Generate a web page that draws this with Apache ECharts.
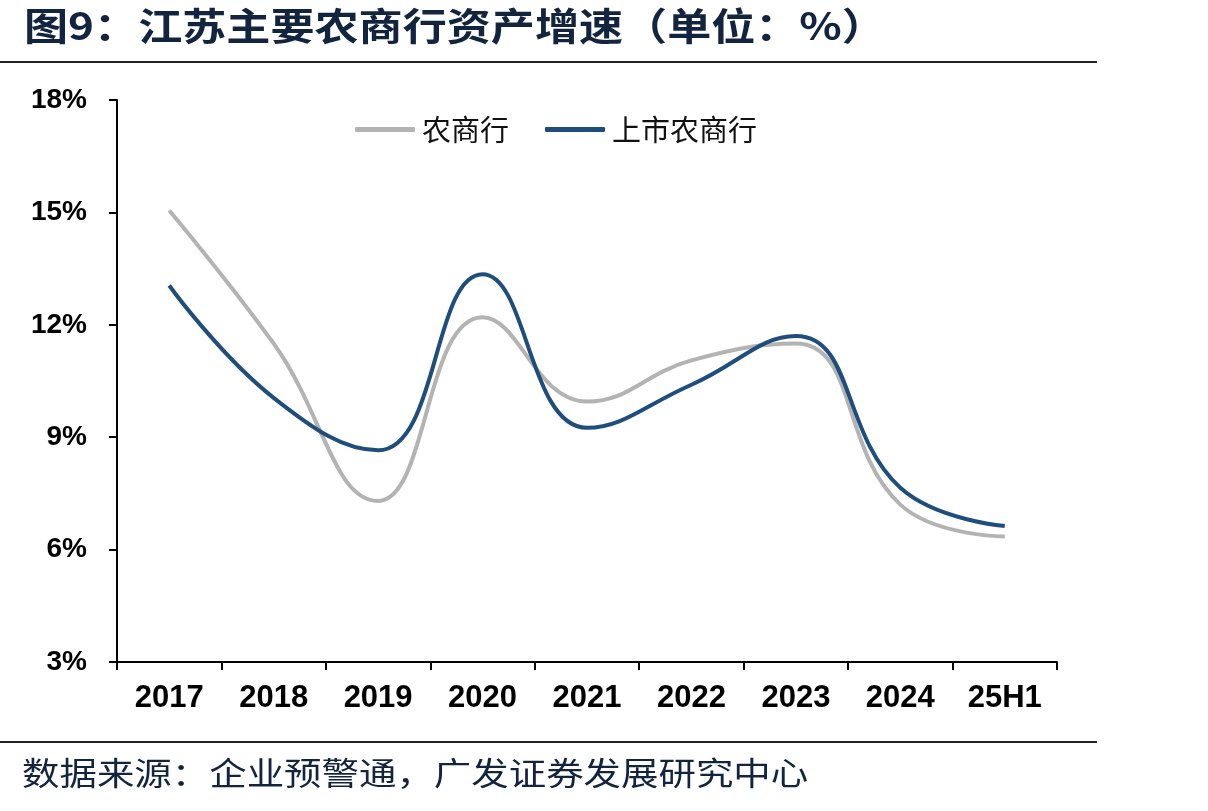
<!DOCTYPE html>
<html><head><meta charset="utf-8">
<script src="https://cdn.jsdelivr.net/npm/echarts@6/dist/echarts.min.js"></script>
<style>html,body{margin:0;padding:0;background:#fff}#c{width:1208px;height:811px}</style>
</head><body><div id="c"></div>
<script>
const categories = ['2017','2018','2019','2020','2021','2022','2023','2024','25H1'];
const seriesNames = ['农商行','上市农商行'];
const ruralBanks = [15.05, 11.5, 7.3, 12.2, 9.95, 11.05, 11.5, 7.2, 6.35];
const listedRuralBanks = [13.05, 10.05, 8.65, 13.35, 9.25, 10.4, 11.7, 7.65, 6.63];
const yTicks = [3, 6, 9, 12, 15, 18];

const chart = echarts.init(document.getElementById('c'));
const cjk = '"Noto Sans CJK SC", sans-serif';
chart.setOption({
  backgroundColor: '#fff',
  animation: false,
  graphic: [
    {type: 'text', x: 24, y: 7, scaleX: 1.16, style: {text: '图9：江苏主要农商行资产增速（单位：%）', fontFamily: cjk, fontSize: 38, fontWeight: 'bold', fill: '#13243f', textVerticalAlign: 'top'}},
    {type: 'rect', shape: {x: 0, y: 61, width: 1097, height: 2}, style: {fill: '#222'}},
    {type: 'rect', shape: {x: 0, y: 741, width: 1097, height: 2}, style: {fill: '#222'}},
    {type: 'text', x: 22, y: 757, scaleX: 1.17, style: {text: '数据来源：企业预警通，广发证券发展研究中心', fontFamily: cjk, fontSize: 32, fill: '#13243f', textVerticalAlign: 'top'}}
  ],
  legend: {
    top: 110, left: 350,
    itemWidth: 60, itemHeight: 5, itemGap: 36,
    icon: 'roundRect',
    data: seriesNames,
    textStyle: {fontFamily: cjk, fontSize: 29, color: '#111', padding: [0,0,0,2]}
  },
  grid: {left: 117, right: 151, top: 100, bottom: 149},
  xAxis: {
    type: 'category', data: categories, boundaryGap: true,
    axisLine: {lineStyle: {color: '#000', width: 2}},
    axisTick: {show: true, length: 8, lineStyle: {color: '#000', width: 2}},
    axisLabel: {margin: 21, fontFamily: 'Liberation Sans, Arial', fontWeight: 'bold', fontSize: 31, color: '#000'}
  },
  yAxis: {
    type: 'value', min: 3, max: 18, interval: 3,
    axisLine: {show: true, lineStyle: {color: '#000', width: 2}},
    axisTick: {show: true, inside: false, length: 8, lineStyle: {color: '#000', width: 2}},
    splitLine: {show: false},
    axisLabel: {margin: 30, fontFamily: 'Liberation Sans, Arial', fontWeight: 'bold', fontSize: 28, color: '#000',
      formatter: v => yTicks.includes(v) ? v + '%' : ''}
  },
  series: [
    {name: seriesNames[0], type: 'line', data: ruralBanks, smooth: 0.45, symbol: 'none',
     lineStyle: {color: '#b3b3b3', width: 4}, itemStyle: {color: '#b3b3b3'}},
    {name: seriesNames[1], type: 'line', data: listedRuralBanks, smooth: 0.45, symbol: 'none',
     lineStyle: {color: '#1f4e7d', width: 4}, itemStyle: {color: '#1f4e7d'}}
  ]
});
</script></body></html>
